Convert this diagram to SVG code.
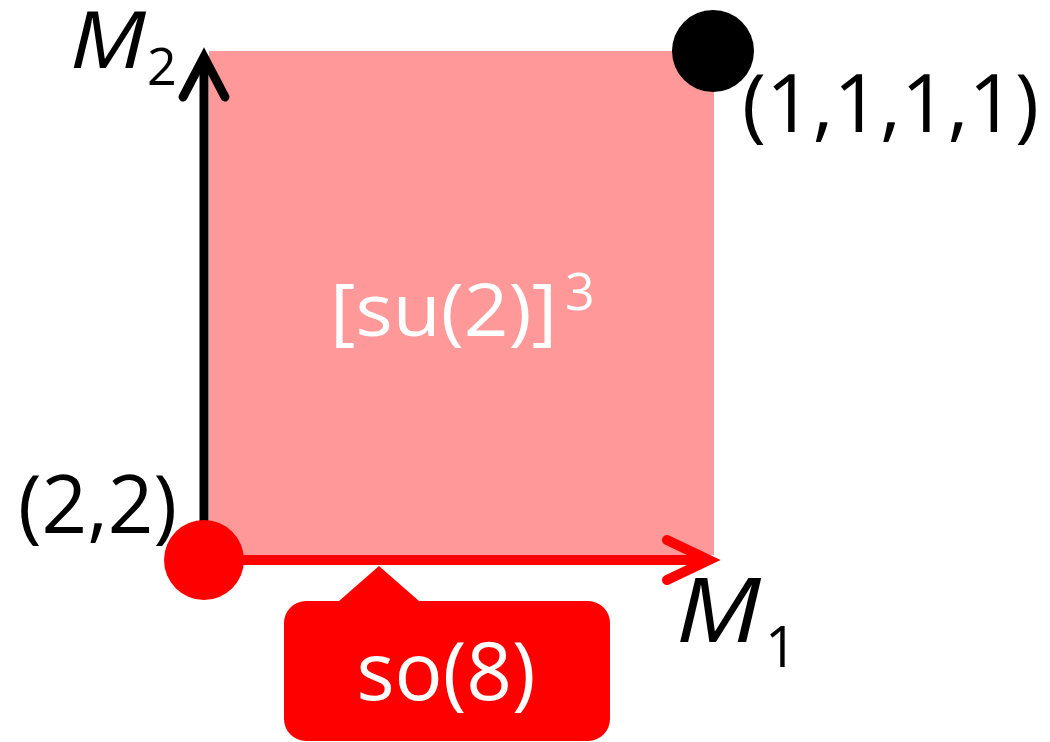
<svg xmlns="http://www.w3.org/2000/svg" width="1050" height="742" viewBox="0 0 1050 742">
  <style>
    text { font-family: "Open Sans", "Liberation Sans", sans-serif; }
    .blk { fill: #000000; }
    .wht { fill: #FFFFFF; }
    .ital { font-style: italic; }
    .axisK { stroke: #000000; stroke-width: 9; fill: none; }
    .axisR { stroke: #FF0000; stroke-width: 10; fill: none; }
    .head { stroke-linecap: round; stroke-linejoin: miter; }
  </style>
  <rect width="1050" height="742" fill="#FFFFFF"/>
  <g id="region">
    <rect x="209" y="51" width="505" height="504" fill="#FF9999"/>
    <text class="wht" x="330" y="336" font-size="74" textLength="227" lengthAdjust="spacingAndGlyphs">[su(2)]</text>
    <text class="wht" x="565" y="310" font-size="52">3</text>
  </g>
  <g id="connectors">
    <line class="axisK" x1="204" y1="560" x2="204" y2="58"/>
    <polyline class="axisK head" points="183,97 204,57 225,97"/>
    <line class="axisR" x1="204" y1="560" x2="709" y2="560"/>
    <polyline class="axisR head" points="667,540 709,560 667,580"/>
  </g>
  <g id="point-22">
    <circle cx="204" cy="560" r="40" fill="#FF0000"/>
    <text class="blk" x="18" y="533" font-size="80" textLength="159" lengthAdjust="spacingAndGlyphs">(2,2)</text>
  </g>
  <g id="point-1111">
    <circle cx="713" cy="51" r="41" fill="#000000"/>
    <text class="blk" x="742" y="132" font-size="80" textLength="297" lengthAdjust="spacingAndGlyphs">(1,1,1,1)</text>
  </g>
  <g id="label-M2">
    <text class="blk ital" x="70" y="68" font-size="78" textLength="76" lengthAdjust="spacingAndGlyphs">M</text>
    <text class="blk" x="147" y="85" font-size="52">2</text>
  </g>
  <g id="label-M1">
    <text class="blk ital" x="676" y="642" font-size="90" textLength="85" lengthAdjust="spacingAndGlyphs">M</text>
    <text class="blk" x="765" y="667" font-size="56">1</text>
  </g>
  <g id="callout-so8">
    <path d="M306,601 L339,601 L379,566 L419,601 L588,601 A22,22 0 0 1 610,623 L610,719 A22,22 0 0 1 588,741 L306,741 A22,22 0 0 1 284,719 L284,623 A22,22 0 0 1 306,601 Z" fill="#FF0000"/>
    <text class="wht" x="446" y="700" font-size="80" text-anchor="middle">so(8)</text>
  </g>
</svg>
